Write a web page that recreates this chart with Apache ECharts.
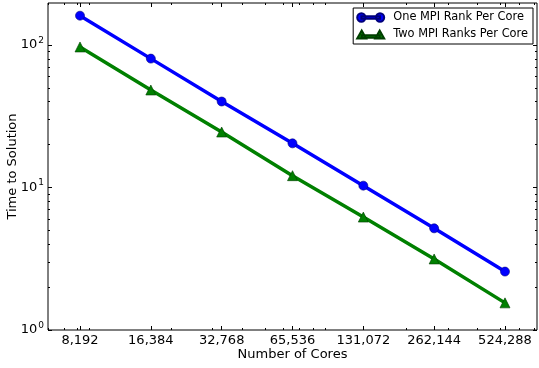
<!DOCTYPE html>
<html>
<head>
<meta charset="utf-8">
<script src="https://cdn.jsdelivr.net/npm/echarts@6/dist/echarts.min.js"></script>
<style>
html,body{margin:0;padding:0;background:#fff;}
#c{width:539px;height:368px;}
</style>
</head>
<body>
<div id="c"></div>
<script>
const cores = [8192, 16384, 32768, 65536, 131072, 262144, 524288];
const oneRank = [160.5, 80.2, 40.1, 20.4, 10.3, 5.17, 2.57];
const twoRanks = [96.8, 48.3, 24.5, 12.1, 6.2, 3.15, 1.55];
const seriesNames = ['One MPI Rank Per Core', 'Two MPI Ranks Per Core'];
const yMajor = [1, 10, 100];
const yMinor = [2,3,4,5,6,7,8,9,20,30,40,50,60,70,80,90];
const xMinor = [6000,7000,8000,9000,20000,30000,40000,50000,60000,70000,80000,90000,200000,300000,400000,500000,600000,700000];

const FONT = 'DejaVu Sans';
const xMin = 5989, xMax = 717200, yMin = 1, yMax = 197;
const axisCol = '#000';

function fmtComma(v){ return Math.round(v).toString().replace(/\B(?=(\d{3})+(?!\d))/g, ','); }

function xAx(pos, ticks, len, labels){
  return {
    type: 'log', logBase: 2, min: xMin, max: xMax, position: pos,
    axisLine: {show: false},
    splitLine: {show: false},
    axisTick: {show: true, inside: true, length: len, customValues: ticks, lineStyle: {color: axisCol, width: 1}},
    axisLabel: labels ? {show: true, customValues: cores, formatter: v => fmtComma(v), fontFamily: FONT, fontSize: 13, color: '#000', margin: 4}
                     : {show: false},
    name: labels ? 'Number of Cores' : '',
    nameLocation: 'middle', nameGap: 18, nameMoveOverlap: false,
    nameTextStyle: {fontFamily: FONT, fontSize: 13, color: '#000'}
  };
}
function yAx(pos, ticks, len, labels){
  return {
    type: 'log', logBase: 10, min: yMin, max: yMax, position: pos,
    axisLine: {show: false},
    splitLine: {show: false},
    axisTick: {show: true, inside: true, length: len, customValues: ticks, lineStyle: {color: axisCol, width: 1}},
    axisLabel: labels ? {
      show: true, customValues: yMajor, margin: 4,
      formatter: v => '{a|10}{b|' + Math.round(Math.log10(v)) + '}',
      rich: {
        a: {fontFamily: FONT, fontSize: 13, color: '#000'},
        b: {fontFamily: FONT, fontSize: 9, color: '#000', padding: [0,0,9,1]}
      }
    } : {show: false},
    name: labels ? 'Time to Solution' : '',
    nameLocation: 'middle', nameGap: 29, nameRotate: 90, nameMoveOverlap: false,
    nameTextStyle: {fontFamily: FONT, fontSize: 13, color: '#000'}
  };
}

function circleIcon(){
  return 'path://M0.5,4.5 A4,4 0 1,1 8.5,4.5 A4,4 0 1,1 0.5,4.5 Z M18.5,4.5 A4,4 0 1,1 26.5,4.5 A4,4 0 1,1 18.5,4.5 Z M4.5,3.2 L22.5,3.2 L22.5,5.8 L4.5,5.8 Z';
}
function triIcon(){
  return 'path://M0,8.5 L4.5,0.5 L9,8.5 Z M18,8.5 L22.5,0.5 L27,8.5 Z M4.5,5.2 L22.5,5.2 L22.5,7.8 L4.5,7.8 Z';
}

const chart = echarts.init(document.getElementById('c'), null, {renderer: 'canvas'});
chart.setOption({
  animation: false,
  backgroundColor: '#fff',
  grid: {left: 48, right: 2, top: 3, bottom: 38, show: true, borderColor: '#000', borderWidth: 1,
         backgroundColor: 'transparent', containLabel: false, outerBoundsMode: 'none'},
  xAxis: [
    xAx('bottom', cores, 4, true),
    xAx('bottom', xMinor, 2, false),
    xAx('top', cores, 4, false),
    xAx('top', xMinor, 2, false)
  ],
  yAxis: [
    yAx('left', yMajor, 4, true),
    yAx('left', yMinor, 2, false),
    yAx('right', yMajor, 4, false),
    yAx('right', yMinor, 2, false)
  ],
  legend: {
    orient: 'vertical', right: 6, top: 8,
    padding: [4, 5, 4, 3],
    itemGap: 6, itemWidth: 27, itemHeight: 10,
    borderColor: '#000', borderWidth: 1, borderRadius: 0,
    backgroundColor: '#fff',
    textStyle: {fontFamily: FONT, fontSize: 11.4, color: '#000', padding: [0,0,0,4]},
    data: [
      {name: seriesNames[0], icon: circleIcon()},
      {name: seriesNames[1], icon: triIcon()}
    ]
  },
  series: [
    {
      name: seriesNames[0], type: 'line', xAxisIndex: 0, yAxisIndex: 0,
      data: cores.map((c, i) => [c, oneRank[i]]),
      lineStyle: {color: '#0000ff', width: 3.5},
      itemStyle: {color: '#0000ff', borderColor: '#00007a', borderWidth: 0.6},
      symbol: 'circle', symbolSize: 9, showSymbol: true, z: 3
    },
    {
      name: seriesNames[1], type: 'line', xAxisIndex: 0, yAxisIndex: 0,
      data: cores.map((c, i) => [c, twoRanks[i]]),
      lineStyle: {color: '#008000', width: 3.5},
      itemStyle: {color: '#008000', borderColor: '#003d00', borderWidth: 0.6},
      symbol: 'triangle', symbolSize: 10, showSymbol: true, z: 3
    }
  ]
});
</script>
</body>
</html>
